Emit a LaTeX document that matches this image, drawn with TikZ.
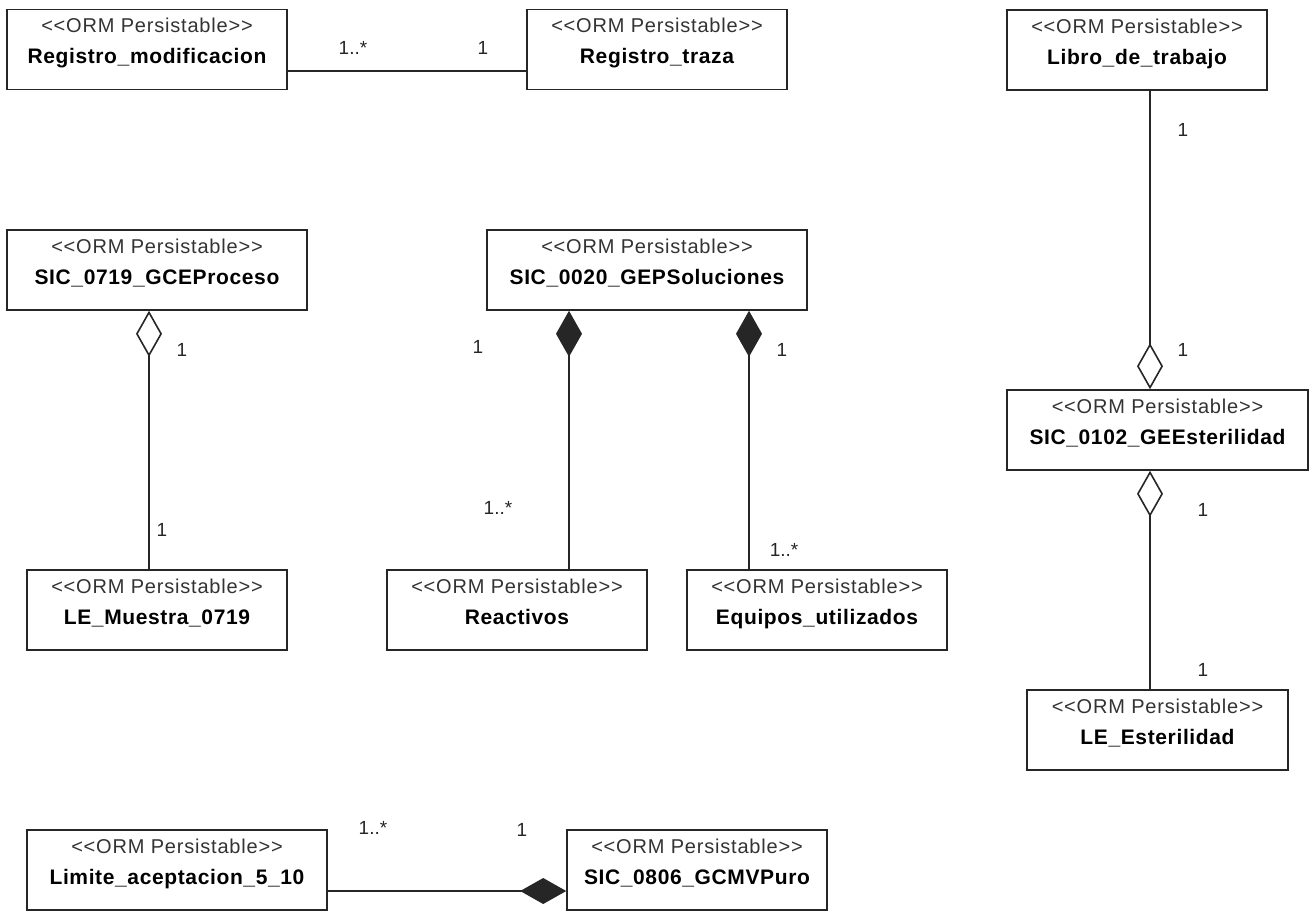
\documentclass[tikz,border=0pt]{standalone}
\usepackage{fontspec}
\setmainfont{Liberation Sans}
\newfontfamily\stereofont[LetterSpace=4]{Liberation Sans}
\newfontfamily\titlefont[LetterSpace=3]{Liberation Sans}
\usetikzlibrary{arrows.meta,calc}

% class box: name, centre, width, title
\newcommand\ormclass[4]{%
  \node[cls, minimum width=#3] (#1) at (#2) {};
  \node[stereo] (#1-st) at ($(#1.north)+(0,24)$) {<<ORM Persistable>>};
  \node[ttl] (#1-tt) at ($(#1.north)+(0,55)$) {#4};}

\begin{document}
\begin{tikzpicture}[x=1pt,y=-1pt,
  cls/.style={draw=black!85, line width=1.6pt, fill=white, inner sep=0pt, minimum height=80pt},
  stereo/.style={font=\stereofont\fontsize{20}{24}\selectfont, text=black!80, inner sep=0pt, anchor=base},
  ttl/.style={font=\titlefont\bfseries\fontsize{21}{25}\selectfont, inner sep=0pt, anchor=base},
  mult/.style={font=\fontsize{19}{23}\selectfont, inner sep=0pt, text=black!85},
  assoc/.style={draw=black!85, line width=1.6pt},
  agg/.style={assoc, {Diamond[open,length=46pt,width=26pt]}-},
  comp/.style={assoc, {Diamond[length=46pt,width=26pt]}-}]

% canvas
\fill[white] (0,0) rectangle (1311,911);
\useasboundingbox (0,0) rectangle (1311,911);

\ormclass{rm}{147,49.5}{280pt}{Registro\_modificacion}
\ormclass{rt}{657,49.5}{260pt}{Registro\_traza}
\ormclass{lt}{1137,50}{260pt}{Libro\_de\_trabajo}
\ormclass{gce}{157,270}{300pt}{SIC\_0719\_GCEProceso}
\ormclass{gep}{647,270}{320pt}{SIC\_0020\_GEPSoluciones}
\ormclass{gee}{1157.5,430}{301pt}{SIC\_0102\_GEEsterilidad}
\ormclass{lem}{157,610}{260pt}{LE\_Muestra\_0719}
\ormclass{rea}{517,610}{260pt}{Reactivos}
\ormclass{equ}{817,610}{260pt}{Equipos\_utilizados}
\ormclass{lee}{1157.5,730}{261pt}{LE\_Esterilidad}
\ormclass{lim}{177,870}{300pt}{Limite\_aceptacion\_5\_10}
\ormclass{gcm}{697,870}{260pt}{SIC\_0806\_GCMVPuro}

% associations
\draw[assoc] ($(rm.east)+(0,21.5)$) -- ($(rt.west)+(0,21.5)$);
\draw[agg]  ($(gce.south)+(-8,0)$) -- ($(lem.north)+(-8,0)$);
\draw[comp] ($(gep.south)+(-78,0)$) -- ($(rea.north)+(52,0)$);
\draw[comp] ($(gep.south)+(102,0)$) -- ($(equ.north)+(-68,0)$);
\draw[agg]  ($(gee.north)+(-7.5,0)$) -- ($(lt.south)+(13,0)$);
\draw[agg]  ($(gee.south)+(-7.5,0)$) -- ($(lee.north)+(-7.5,0)$);
\draw[comp] ($(gcm.west)+(0,21)$) -- ($(lim.east)+(0,21)$);

% multiplicities
\node[mult] (m1) at (353,48) {1..*};
\node[mult] (m2) at (483,48) {1};
\node[mult] (m3) at (182,350) {1};
\node[mult] (m4) at (162,530) {1};
\node[mult] (m5) at (478,347) {1};
\node[mult] (m6) at (782,350) {1};
\node[mult] (m7) at (498,508) {1..*};
\node[mult] (m8) at (784,550) {1..*};
\node[mult] (m9) at (1183,130) {1};
\node[mult] (m10) at (1183,350) {1};
\node[mult] (m11) at (1203,510) {1};
\node[mult] (m12) at (1203,670) {1};
\node[mult] (m13) at (373,828) {1..*};
\node[mult] (m14) at (522,830) {1};
\end{tikzpicture}
\end{document}
